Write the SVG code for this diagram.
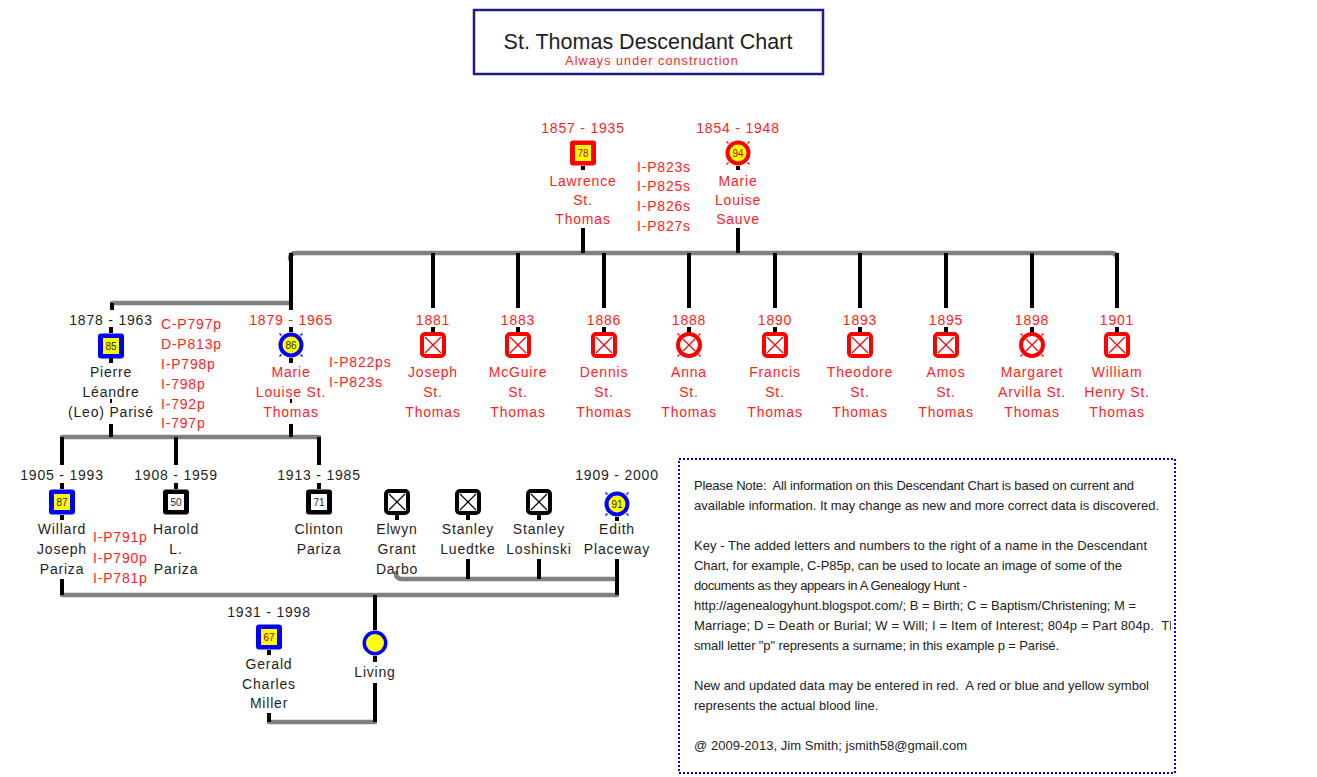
<svg xmlns="http://www.w3.org/2000/svg" xmlns:xlink="http://www.w3.org/1999/xlink" width="1317" height="777" viewBox="0 0 1317 777">
<style>
.t{font-family:"Liberation Sans",Arial,sans-serif;font-size:14px;letter-spacing:0.8px;text-anchor:middle}
.ref{font-family:"Liberation Sans",Arial,sans-serif;font-size:14px;letter-spacing:0.8px;text-anchor:start;fill:#ff2222}
.r{fill:#ff2222}
.k{fill:#1e1e1e}
.num{font-family:"Liberation Sans",Arial,sans-serif;font-size:10px;text-anchor:middle;fill:#1e1e1e}
.note{font-family:"Liberation Sans",Arial,sans-serif;font-size:13px;fill:#222}
.gray{stroke:#808080;stroke-width:4.5;fill:none;stroke-linecap:round}
.blk{stroke:#000;stroke-width:4;fill:none}
</style>
<defs>
<g id="sqx">
<rect x="-11" y="-11" width="22" height="22" rx="3" fill="#fff" stroke="currentColor" stroke-width="4"/>
<path d="M-8,-8 L8,8 M8,-8 L-8,8" stroke="currentColor" stroke-width="1.2"/>
</g>
<g id="cix">
<circle r="11" fill="#fff" stroke="currentColor" stroke-width="4"/>
<path d="M-6,-6 L6,6 M6,-6 L-6,6" stroke="currentColor" stroke-width="1.2"/>
<path d="M9.5,-9.5 L11.5,-11.5 M-9.5,-9.5 L-11.5,-11.5 M9.5,9.5 L11.5,11.5 M-9.5,9.5 L-11.5,11.5" stroke="currentColor" stroke-width="1.3"/>
</g>
<g id="sqf">
<rect x="-13" y="-12.5" width="26" height="25" rx="3" fill="currentColor"/>
<rect x="-8" y="-8" width="16" height="16" fill="#ffff00"/>
</g>
<g id="sqw">
<rect x="-13" y="-12.5" width="26" height="25" rx="3" fill="#000"/>
<rect x="-8" y="-8" width="16" height="16" fill="#fff"/>
</g>
<g id="cif">
<circle r="12.5" fill="currentColor"/>
<circle r="8.5" fill="#ffff00"/>
<path d="M9.5,-9.5 L11.5,-11.5 M-9.5,-9.5 L-11.5,-11.5 M9.5,9.5 L11.5,11.5 M-9.5,9.5 L-11.5,11.5" stroke="currentColor" stroke-width="1.3"/>
</g>
<clipPath id="noteclip"><rect x="680" y="460" width="491" height="312"/></clipPath>
</defs>

<g id="title">
<rect x="474" y="10" width="349" height="64" fill="#fff" stroke="#1c1c8c" stroke-width="2.5"/>
<text x="648" y="49" style="font-family:'Liberation Sans',Arial,sans-serif;font-size:21.5px;text-anchor:middle;fill:#1e1e1e">St. Thomas Descendant Chart</text>
<text x="652" y="65" style="font-family:'Liberation Sans',Arial,sans-serif;font-size:12.5px;letter-spacing:1.1px;text-anchor:middle;fill:#ff2222">Always under construction</text>
</g>

<g id="connectors">
<path class="gray" d="M290,259 Q290,253 296,253 H1111 Q1117,253 1117,259"/>
<path class="gray" d="M112,303 H291"/>
<path class="gray" d="M62,437 H319"/>
<path class="gray" d="M62,595 H617"/>
<path class="gray" d="M396,573 Q396,579 402,579 H617"/>
<path class="gray" d="M269,722 H375"/>
<path class="blk" d="M583,166 V170 M583,228 V253 M738,166 V170 M738,228 V253"/>
<path class="blk" d="M291,253 V310 M112,303 V310"/>
<path class="blk" d="M433,253 V308 M518,253 V308 M604,253 V308 M689,253 V308 M775,253 V308 M860,253 V308 M946,253 V308 M1032,253 V308 M1117,253 V308"/>
<path class="blk" d="M433,327 V333 M518,327 V333 M604,327 V333 M689,327 V333 M775,327 V333 M860,327 V333 M946,327 V333 M1032,327 V333 M1117,327 V333"/>
<path class="blk" d="M111,327 V333 M111,358 V363 M291,327 V332 M291,358 V363"/>
<path stroke="#000" stroke-width="2" d="M111,399 V403 M291,399 V403"/>
<path class="blk" d="M111,424 V437 M291,424 V437"/>
<path class="blk" d="M62,437 V465 M176,437 V465 M319,437 V465"/>
<path class="blk" d="M62,483 V489 M176,483 V489 M319,483 V489 M62,515 V520"/>
<path class="blk" d="M397,515 V520 M468,515 V520 M539,515 V520 M617,517 V521"/>
<path class="blk" d="M62,579 V595 M468,559 V579 M539,559 V579 M617,559 V595"/>
<path class="blk" d="M375,595 V630 M375,656 V662 M375,683 V722"/>
<path class="blk" d="M269,650 V655 M269,713 V722"/>
</g>

<g id="lawrence">
<text class="t r" x="583" y="133">1857 - 1935</text>
<use xlink:href="#sqf" x="583" y="153" style="color:#ff0000"/>
<text class="num" x="583" y="157" style="fill:#d00000">78</text>
<text class="t r" x="583" y="186">Lawrence</text>
<text class="t r" x="583" y="205">St.</text>
<text class="t r" x="583" y="224">Thomas</text>
</g>
<g id="couple-refs">
<text class="ref" x="637" y="172">I-P823s</text>
<text class="ref" x="637" y="191">I-P825s</text>
<text class="ref" x="637" y="211">I-P826s</text>
<text class="ref" x="637" y="231">I-P827s</text>
</g>
<g id="marie-sauve">
<text class="t r" x="738" y="133">1854 - 1948</text>
<use xlink:href="#cif" x="738" y="153" style="color:#ff0000"/>
<text class="num" x="738" y="157" style="fill:#b00000">94</text>
<text class="t r" x="738" y="186">Marie</text>
<text class="t r" x="738" y="205">Louise</text>
<text class="t r" x="738" y="224">Sauve</text>
</g>

<g id="pierre">
<text class="t k" x="111" y="325">1878 - 1963</text>
<use xlink:href="#sqf" x="111" y="346" style="color:#0000ff"/>
<text class="num" x="111" y="350">85</text>
<text class="t k" x="111" y="377">Pierre</text>
<text class="t k" x="111" y="397">Léandre</text>
<text class="t k" x="111" y="417">(Leo) Parisé</text>
</g>
<g id="pierre-refs">
<text class="ref" x="161" y="329">C-P797p</text>
<text class="ref" x="161" y="349">D-P813p</text>
<text class="ref" x="161" y="369">I-P798p</text>
<text class="ref" x="161" y="389">I-798p</text>
<text class="ref" x="161" y="409">I-792p</text>
<text class="ref" x="161" y="428">I-797p</text>
</g>
<g id="marie-stthomas">
<text class="t r" x="291" y="325">1879 - 1965</text>
<use xlink:href="#cif" x="291" y="345" style="color:#0000ff"/>
<text class="num" x="291" y="349">86</text>
<text class="t r" x="291" y="377">Marie</text>
<text class="t r" x="291" y="397">Louise St.</text>
<text class="t r" x="291" y="417">Thomas</text>
<text class="ref" x="329" y="367">I-P822ps</text>
<text class="ref" x="329" y="387">I-P823s</text>
</g>

<g id="joseph"><text class="t r" x="433" y="325">1881</text><use xlink:href="#sqx" x="433" y="345" style="color:#ff0000"/><text class="t r" x="433" y="377">Joseph</text><text class="t r" x="433" y="397">St.</text><text class="t r" x="433" y="417">Thomas</text></g>
<g id="mcguire"><text class="t r" x="518" y="325">1883</text><use xlink:href="#sqx" x="518" y="345" style="color:#ff0000"/><text class="t r" x="518" y="377">McGuire</text><text class="t r" x="518" y="397">St.</text><text class="t r" x="518" y="417">Thomas</text></g>
<g id="dennis"><text class="t r" x="604" y="325">1886</text><use xlink:href="#sqx" x="604" y="345" style="color:#ff0000"/><text class="t r" x="604" y="377">Dennis</text><text class="t r" x="604" y="397">St.</text><text class="t r" x="604" y="417">Thomas</text></g>
<g id="anna"><text class="t r" x="689" y="325">1888</text><use xlink:href="#cix" x="689" y="345" style="color:#ff0000"/><text class="t r" x="689" y="377">Anna</text><text class="t r" x="689" y="397">St.</text><text class="t r" x="689" y="417">Thomas</text></g>
<g id="francis"><text class="t r" x="775" y="325">1890</text><use xlink:href="#sqx" x="775" y="345" style="color:#ff0000"/><text class="t r" x="775" y="377">Francis</text><text class="t r" x="775" y="397">St.</text><text class="t r" x="775" y="417">Thomas</text></g>
<g id="theodore"><text class="t r" x="860" y="325">1893</text><use xlink:href="#sqx" x="860" y="345" style="color:#ff0000"/><text class="t r" x="860" y="377">Theodore</text><text class="t r" x="860" y="397">St.</text><text class="t r" x="860" y="417">Thomas</text></g>
<g id="amos"><text class="t r" x="946" y="325">1895</text><use xlink:href="#sqx" x="946" y="345" style="color:#ff0000"/><text class="t r" x="946" y="377">Amos</text><text class="t r" x="946" y="397">St.</text><text class="t r" x="946" y="417">Thomas</text></g>
<g id="margaret"><text class="t r" x="1032" y="325">1898</text><use xlink:href="#cix" x="1032" y="345" style="color:#ff0000"/><text class="t r" x="1032" y="377">Margaret</text><text class="t r" x="1032" y="397">Arvilla St.</text><text class="t r" x="1032" y="417">Thomas</text></g>
<g id="william"><text class="t r" x="1117" y="325">1901</text><use xlink:href="#sqx" x="1117" y="345" style="color:#ff0000"/><text class="t r" x="1117" y="377">William</text><text class="t r" x="1117" y="397">Henry St.</text><text class="t r" x="1117" y="417">Thomas</text></g>

<g id="willard">
<text class="t k" x="62" y="480">1905 - 1993</text>
<use xlink:href="#sqf" x="62" y="502" style="color:#0000ff"/>
<text class="num" x="62" y="506">87</text>
<text class="t k" x="62" y="534">Willard</text>
<text class="t k" x="62" y="554">Joseph</text>
<text class="t k" x="62" y="574">Pariza</text>
<text class="ref" x="93" y="542">I-P791p</text>
<text class="ref" x="93" y="563">I-P790p</text>
<text class="ref" x="93" y="583">I-P781p</text>
</g>
<g id="harold">
<text class="t k" x="176" y="480">1908 - 1959</text>
<use xlink:href="#sqw" x="176" y="502"/>
<text class="num" x="176" y="506">50</text>
<text class="t k" x="176" y="534">Harold</text>
<text class="t k" x="176" y="554">L.</text>
<text class="t k" x="176" y="574">Pariza</text>
</g>
<g id="clinton">
<text class="t k" x="319" y="480">1913 - 1985</text>
<use xlink:href="#sqw" x="319" y="502"/>
<text class="num" x="319" y="506">71</text>
<text class="t k" x="319" y="534">Clinton</text>
<text class="t k" x="319" y="554">Pariza</text>
</g>
<g id="elwyn">
<use xlink:href="#sqx" x="397" y="502" style="color:#000"/>
<text class="t k" x="397" y="534">Elwyn</text>
<text class="t k" x="397" y="554">Grant</text>
<text class="t k" x="397" y="574">Darbo</text>
</g>
<g id="stanley-luedtke">
<use xlink:href="#sqx" x="468" y="502" style="color:#000"/>
<text class="t k" x="468" y="534">Stanley</text>
<text class="t k" x="468" y="554">Luedtke</text>
</g>
<g id="stanley-loshinski">
<use xlink:href="#sqx" x="539" y="502" style="color:#000"/>
<text class="t k" x="539" y="534">Stanley</text>
<text class="t k" x="539" y="554">Loshinski</text>
</g>
<g id="edith">
<text class="t k" x="617" y="480">1909 - 2000</text>
<use xlink:href="#cif" x="617" y="504" style="color:#0000ff"/>
<text class="num" x="617" y="508">91</text>
<text class="t k" x="617" y="534">Edith</text>
<text class="t k" x="617" y="554">Placeway</text>
</g>

<g id="gerald">
<text class="t k" x="269" y="617">1931 - 1998</text>
<use xlink:href="#sqf" x="269" y="637" style="color:#0000ff"/>
<text class="num" x="269" y="641" style="fill:#a00000">67</text>
<text class="t k" x="269" y="669">Gerald</text>
<text class="t k" x="269" y="689">Charles</text>
<text class="t k" x="269" y="708">Miller</text>
</g>
<g id="living">
<circle cx="375" cy="643" r="12.5" fill="#0000ff"/>
<circle cx="375" cy="643" r="9" fill="#ffff00"/>
<text class="t k" x="375" y="677">Living</text>
</g>

<g id="note">
<rect x="679" y="459" width="496" height="314" fill="#fff" stroke="#0000ff" stroke-width="2" stroke-dasharray="2 2"/>
<g clip-path="url(#noteclip)">
<text class="note" x="694" y="490" textLength="440" lengthAdjust="spacing">Please Note:&#160; All information on this Descendant Chart is based on current and</text>
<text class="note" x="694" y="510" textLength="465" lengthAdjust="spacing">available information. It may change as new and more correct data is discovered.</text>
<text class="note" x="694" y="550" textLength="453" lengthAdjust="spacing">Key - The added letters and numbers to the right of a name in the Descendant</text>
<text class="note" x="694" y="570" textLength="428" lengthAdjust="spacing">Chart, for example, C-P85p, can be used to locate an image of some of the</text>
<text class="note" x="694" y="590" textLength="273" lengthAdjust="spacing">documents as they appears in A Genealogy Hunt -</text>
<text class="note" x="694" y="610" textLength="442" lengthAdjust="spacing">http://agenealogyhunt.blogspot.com/; B = Birth; C = Baptism/Christening; M =</text>
<text class="note" x="694" y="630" style="letter-spacing:0.15px">Marriage; D = Death or Burial; W = Will; I = Item of Interest; 804p = Part 804p.&#160; The</text>
<text class="note" x="694" y="650" textLength="365" lengthAdjust="spacing">small letter "p" represents a surname; in this example p = Parisé.</text>
<text class="note" x="694" y="690" textLength="455" lengthAdjust="spacing">New and updated data may be entered in red.&#160; A red or blue and yellow symbol</text>
<text class="note" x="694" y="710">represents the actual blood line.</text>
<text class="note" x="694" y="750" textLength="273" lengthAdjust="spacing">@ 2009-2013, Jim Smith; jsmith58@gmail.com</text>
</g>
</g>
</svg>
